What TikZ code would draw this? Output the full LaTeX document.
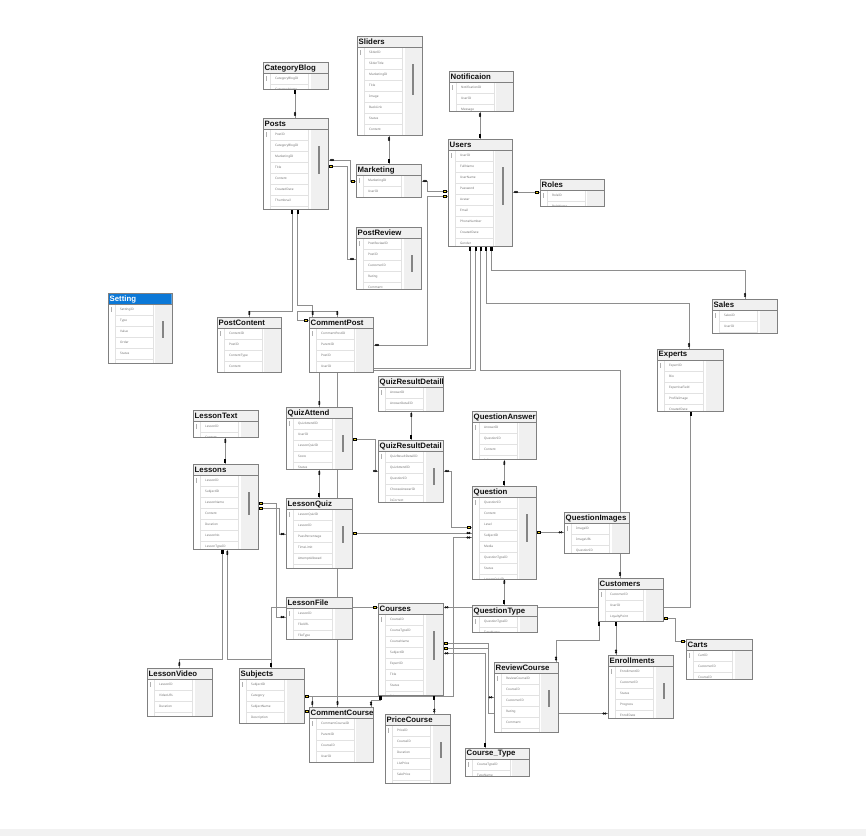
\documentclass[tikz,border=0pt]{standalone}
\usepackage{fontspec}
\setmainfont{Noto Sans}
\newfontfamily\titlefont{Liberation Sans}[BoldFont={* Bold}]
\usetikzlibrary{backgrounds}

\definecolor{connc}{HTML}{8E8E8E}
\definecolor{borderc}{HTML}{808080}
\definecolor{headc}{HTML}{F0F0F0}
\definecolor{rowc}{HTML}{E2E2E2}
\definecolor{tickc}{HTML}{B0B0B0}
\definecolor{rowtextc}{HTML}{707070}
\definecolor{titlec}{HTML}{101010}
\definecolor{selc}{HTML}{0B78D7}
\definecolor{thumbc}{HTML}{858585}
\definecolor{keyyellow}{HTML}{F2D21B}
\definecolor{stripc}{HTML}{F2F2F2}

\tikzset{
  conn/.style={draw=connc, line width=0.75pt},
  tablebox/.style={rectangle, draw=borderc, fill=headc, line width=0.8pt, inner sep=0pt, outer sep=0pt},
  tableline/.style={draw=borderc, line width=0.8pt},
  rowline/.style={draw=rowc, line width=0.5pt},
  tickline/.style={draw=tickc, line width=0.4pt},
  rowtext/.style={anchor=west, inner sep=0pt, text=rowtextc, font=\fontsize{3.1}{3.5}\selectfont},
  titletext/.style={anchor=west, inner sep=0pt, font=\titlefont\bfseries\fontsize{7.8}{8}\selectfont},
  plainhead/.style={fill=headc, text=titlec},
  selhead/.style={fill=selc, text=white},
  keyv/.pic={\fill[black] (-1.1,-1.6) rectangle (1.1,1.6);},
  keyh/.pic={\filldraw[draw=black, fill=keyyellow, line width=0.6pt] (-1.4,-1) rectangle (1.4,1);},
  infh/.pic={\draw[black, line width=0.45pt] (-0.9,0) circle (0.85) (0.9,0) circle (0.85);},
  infv/.pic={\draw[black, line width=0.45pt] (0,-0.9) circle (0.85) (0,0.9) circle (0.85);}
}

% #1 name, #2 title, #3 left, #4 top, #5 width, #6 height, #7 columns, #8 scroll thumb length, #9 header style
\newcommand{\dbtable}[9]{%
  \node[tablebox, minimum width=#5pt, minimum height=#6pt] (#1) at ({#3+#5/2},{#4+#6/2}) {};
  \begin{scope}
    \clip ({#3+0.4},{#4+0.4}) rectangle ({#3+#5-0.4},{#4+#6-0.4});
    \fill[#9] (#3,#4) rectangle ({#3+#5},{#4+11});
    \fill[white] ({#3+1},{#4+11.5}) rectangle ({#3+0.74*#5},{#4+#6});
    \foreach \r [count=\i] in {#7} {
      \pgfmathsetmacro\ry{#4+11+(\i-1)*11}
      \draw[rowline] ({#3+7},{\ry+11}) -- ({#3+0.74*#5-2.5},{\ry+11});
      \node[rowtext] at ({#3+12},{\ry+5.5}) {\r};
    }
    \draw[rowline] ({#3+7},{#4+11}) -- ({#3+7},{#4+#6});
    \draw[rowline] ({#3+0.74*#5-2.5},{#4+11}) -- ({#3+0.74*#5-2.5},{#4+#6});
    \draw[tickline] ({#3+3.5},{#4+14}) -- ({#3+3.5},{#4+19});
    \node[titletext, #9] at ({#3+1.5},{#4+6}) {#2};
  \end{scope}
  \draw[tableline] (#3,{#4+11}) -- ({#3+#5},{#4+11});
  \ifdim #8pt>0pt \fill[thumbc] ({#3+#5-10.5},{#4+28}) rectangle ({#3+#5-8.5},{#4+28+#8});\fi
  \draw[tableline] (#1.north west) rectangle (#1.south east);
}

% mark at one end of a relation: point, offset, mark
\newcommand{\relmk}[3]{\path (#1) ++(#2) pic {#3};}

\begin{document}
\begin{tikzpicture}[x=1pt, y=-1pt]
\useasboundingbox (0,0) rectangle (866,836);

% ---------- tables ----------
\dbtable{CategoryBlog}{CategoryBlog}{263}{62}{65}{27}{CategoryBlogID,CategoryName}{0}{plainhead}
\dbtable{Sliders}{Sliders}{357}{36}{65}{99}{SliderID,SliderTitle,MarketingID,Title,Image,BackLink,Status,Content}{31}{plainhead}
\dbtable{Notificaion}{Notificaion}{449}{71}{64}{40}{NotificationID,UserID,Message}{0}{plainhead}
\dbtable{Posts}{Posts}{263}{118}{65}{91}{PostID,CategoryBlogID,MarketingID,Title,Content,CreatedDate,Thumbnail}{28}{plainhead}
\dbtable{Marketing}{Marketing}{356}{164}{65}{33}{MarketingID,UserID}{0}{plainhead}
\dbtable{Users}{Users}{448}{139}{64}{107}{UserID,FullName,UserName,Password,Avatar,Email,PhoneNumber,CreatedDate,Gender}{38}{plainhead}
\dbtable{Roles}{Roles}{540}{179}{64}{27}{RoleID,RoleName}{0}{plainhead}
\dbtable{PostReview}{PostReview}{356}{227}{65}{62}{PostReviewID,PostID,CustomerID,Rating,Comment}{17}{plainhead}
\dbtable{Setting}{Setting}{108}{293}{64}{70}{SettingID,Type,Value,Order,Status}{16.5}{selhead}
\dbtable{PostContent}{PostContent}{217}{317}{64}{55}{ContentID,PostID,ContentType,Content}{0}{plainhead}
\dbtable{CommentPost}{CommentPost}{309}{317}{64}{55}{CommentPostID,ParentID,PostID,UserID}{0}{plainhead}
\dbtable{QuizResultDetaill}{QuizResultDetaill}{378}{376}{65}{35}{AnswerID,AnswerDetailID}{0}{plainhead}
\dbtable{QuizResultDetail}{QuizResultDetail}{378}{440}{65}{62}{QuizResultDetailID,QuizAttendID,QuestionID,ChooseAnswerID,IsCorrect}{16.7}{plainhead}
\dbtable{QuestionAnswer}{QuestionAnswer}{472}{411}{64}{48}{AnswerID,QuestionID,Content,IsCorrect}{0}{plainhead}
\dbtable{Question}{Question}{472}{486}{64}{93}{QuestionID,Content,Level,SubjectID,Media,QuestionTypeID,Status,LessonQuizID}{28}{plainhead}
\dbtable{LessonText}{LessonText}{193}{410}{65}{27}{LessonID,Content}{0}{plainhead}
\dbtable{QuizAttend}{QuizAttend}{286}{407}{66}{62}{QuizAttendID,UserID,LessonQuizID,Score,Status}{17}{plainhead}
\dbtable{Lessons}{Lessons}{193}{464}{65}{85}{LessonID,SubjectID,LessonName,Content,Duration,LessonNo,LessonTypeID}{23}{plainhead}
\dbtable{LessonQuiz}{LessonQuiz}{286}{498}{66}{70}{LessonQuizID,LessonID,PassPercentage,TimeLimit,AttemptAllowed}{17.3}{plainhead}
\dbtable{QuestionImages}{QuestionImages}{564}{512}{65}{41}{ImageID,ImageURL,QuestionID}{0}{plainhead}
\dbtable{Customers}{Customers}{598}{578}{65}{43}{CustomerID,UserID,LoyaltyPoint}{0}{plainhead}
\dbtable{QuestionType}{QuestionType}{472}{605}{65}{27}{QuestionTypeID,TypeName}{0}{plainhead}
\dbtable{LessonFile}{LessonFile}{286}{597}{66}{42}{LessonID,FileURL,FileType}{0}{plainhead}
\dbtable{Courses}{Courses}{378}{603}{65}{92}{CourseID,CourseTypeID,CourseName,SubjectID,ExpertID,Title,Status,Price}{29}{plainhead}
\dbtable{LessonVideo}{LessonVideo}{147}{668}{65}{48}{LessonID,VideoURL,Duration}{0}{plainhead}
\dbtable{Subjects}{Subjects}{239}{668}{65}{55}{SubjectID,Category,SubjectName,Description}{0}{plainhead}
\dbtable{CommentCourse}{CommentCourse}{309}{707}{64}{55}{CommentCourseID,ParentID,CourseID,UserID}{0}{plainhead}
\dbtable{PriceCourse}{PriceCourse}{385}{714}{65}{69}{PriceID,CourseID,Duration,ListPrice,SalePrice}{16.3}{plainhead}
\dbtable{CourseType}{Course\_Type}{465}{748}{64}{28}{CourseTypeID,TypeName}{0}{plainhead}
\dbtable{ReviewCourse}{ReviewCourse}{494}{662}{64}{70}{ReviewCourseID,CourseID,CustomerID,Rating,Comment}{16.7}{plainhead}
\dbtable{Enrollments}{Enrollments}{608}{655}{65}{63}{EnrollmentID,CustomerID,Status,Progress,EnrollDate}{16.4}{plainhead}
\dbtable{Carts}{Carts}{686}{639}{66}{40}{CartID,CustomerID,CourseID}{0}{plainhead}
\dbtable{Sales}{Sales}{712}{299}{65}{34}{SalesID,UserID}{0}{plainhead}
\dbtable{Experts}{Experts}{657}{349}{66}{62}{ExpertID,Bio,ExpertiseField,ProfileImage,CreatedDate}{0}{plainhead}

% ---------- relations ----------
\begin{pgfonlayer}{background}
\fill[white] (0,0) rectangle (866,836);
\fill[stripc] (0,829) rectangle (866,836);
\draw[conn] (CategoryBlog.south -| 295,0) -- (Posts.north -| 295,0);
\draw[conn] (Sliders.south -| 389,0) -- (Marketing.north -| 389,0);
\draw[conn] (Notificaion.south -| 480,0) -- (Users.north -| 480,0);
\draw[conn] (Posts.east |- 0,160) -- (350,160) -- (350,181) -- (Marketing.west |- 0,181);
\draw[conn] (Posts.east |- 0,166) -- (347,166) -- (347,259) -- (PostReview.west |- 0,259);
\draw[conn] (Marketing.east |- 0,181) -- (427,181) -- (427,191) -- (Users.west |- 0,191);
\draw[conn] (CommentPost.east |- 0,345) -- (427,345) -- (427,196) -- (Users.west |- 0,196);
\draw[conn] (Users.east |- 0,192) -- (Roles.west |- 0,192);
\draw[conn] (Users.south -| 491.5,0) -- (491.5,270) -- (745,270) -- (Sales.north -| 745,0);
\draw[conn] (Users.south -| 486,0) -- (486,303) -- (689,303) -- (Experts.north -| 689,0);
\draw[conn] (Users.south -| 480.7,0) -- (480.7,370.7) -- (620,370.7) -- (Customers.north -| 620,0);
\draw[conn] (Users.south -| 470.3,0) -- (470.3,368.3) -- (319.3,368.3) -- (QuizAttend.north -| 319.3,0);
\draw[conn] (Users.south -| 475.7,0) -- (475.7,370.7) -- (337.5,370.7) -- (CommentCourse.north -| 337.5,0);
\draw[conn] (Posts.south -| 292.3,0) -- (292.3,311) -- (249.3,311) -- (PostContent.north -| 249.3,0);
\draw[conn] (Posts.south -| 297.7,0) -- (297.7,305.7) -- (312.7,305.7) -- (CommentPost.north -| 312.7,0);
\draw[conn] (CommentPost.west |- 0,320) -- (297.7,320) -- (297.7,311) -- (337.3,311) -- (CommentPost.north -| 337.3,0);
\draw[conn] (QuizResultDetaill.south -| 411.3,0) -- (QuizResultDetail.north -| 411.3,0);
\draw[conn] (QuizAttend.east |- 0,439.3) -- (375,439.3) -- (375,471) -- (QuizResultDetail.west |- 0,471);
\draw[conn] (QuizResultDetail.east |- 0,471) -- (451.7,471) -- (451.7,527.7) -- (Question.west |- 0,527.7);
\draw[conn] (QuizAttend.south -| 319.3,0) -- (LessonQuiz.north -| 319.3,0);
\draw[conn] (LessonText.south -| 225.3,0) -- (Lessons.north -| 225.3,0);
\draw[conn] (Lessons.east |- 0,503.5) -- (276.7,503.5) -- (276.7,617) -- (LessonFile.west |- 0,617);
\draw[conn] (Lessons.east |- 0,508.5) -- (279.5,508.5) -- (279.5,534) -- (LessonQuiz.west |- 0,534);
\draw[conn] (Lessons.south -| 222.5,0) -- (222.5,659.3) -- (179.3,659.3) -- (LessonVideo.north -| 179.3,0);
\draw[conn] (Lessons.south -| 227.3,0) -- (227.3,659.3) -- (271.3,659.3) -- (Subjects.north -| 271.3,0);
\draw[conn] (Courses.west |- 0,607.3) -- (271.3,607.3) -- (Subjects.north -| 271.3,0);
\draw[conn] (Subjects.east |- 0,696.7) -- (453.3,696.7) -- (453.3,537.5) -- (Question.west |- 0,537.5);
\draw[conn] (Subjects.east |- 0,696.7) -- (312.3,696.7) -- (CommentCourse.north -| 312.3,0);
\draw[conn] (Subjects.east |- 0,711.7) -- (CommentCourse.west |- 0,711.7);
\draw[conn] (LessonQuiz.east |- 0,533) -- (Question.west |- 0,533);
\draw[conn] (QuestionAnswer.south -| 504.3,0) -- (Question.north -| 504.3,0);
\draw[conn] (Question.east |- 0,532.3) -- (QuestionImages.west |- 0,532.3);
\draw[conn] (Question.south -| 504.3,0) -- (QuestionType.north -| 504.3,0);
\draw[conn] (Courses.east |- 0,607.3) -- (690.7,607.3) -- (Experts.south -| 690.7,0);
\draw[conn] (Courses.east |- 0,643.3) -- (488.3,643.3) -- (488.3,697.3) -- (ReviewCourse.west |- 0,697.3);
\draw[conn] (Courses.east |- 0,648.3) -- (488.3,648.3) -- (488.3,713.5) -- (Enrollments.west |- 0,713.5);
\draw[conn] (Courses.east |- 0,653.3) -- (485.3,653.3) -- (CourseType.north -| 485.3,0);
\draw[conn] (ReviewCourse.north -| 556,0) -- (556,640.7) -- (599.3,640.7) -- (Customers.south -| 599.3,0);
\draw[conn] (Customers.south -| 616,0) -- (Enrollments.north -| 616,0);
\draw[conn] (Customers.east |- 0,618) -- (675.7,618) -- (675.7,641.5) -- (Carts.west |- 0,641.5);
\draw[conn] (Courses.south -| 434.3,0) -- (PriceCourse.north -| 434.3,0);
\draw[conn] (CommentCourse.north -| 371,0) -- (371,700) -- (380.5,700) -- (Courses.south -| 380.5,0);
\end{pgfonlayer}

% ---------- relation end marks ----------
\relmk{CategoryBlog.south -| 295,0}{0,3}{keyv}
\relmk{Posts.north -| 295,0}{0,-4}{infv}
\relmk{Sliders.south -| 389,0}{0,4}{infv}
\relmk{Marketing.north -| 389,0}{0,-3}{keyv}
\relmk{Notificaion.south -| 480,0}{0,4}{infv}
\relmk{Users.north -| 480,0}{0,-3}{keyv}
\relmk{Posts.east |- 0,160}{4,0}{infh}
\relmk{Marketing.west |- 0,181}{-3,0}{keyh}
\relmk{Posts.east |- 0,166}{3,0}{keyh}
\relmk{PostReview.west |- 0,259}{-4,0}{infh}
\relmk{Marketing.east |- 0,181}{4,0}{infh}
\relmk{Users.west |- 0,191}{-3,0}{keyh}
\relmk{CommentPost.east |- 0,345}{4,0}{infh}
\relmk{Users.west |- 0,196}{-3,0}{keyh}
\relmk{Users.east |- 0,192}{4,0}{infh}
\relmk{Roles.west |- 0,192}{-3,0}{keyh}
\relmk{Users.south -| 491.5,0}{0,3}{keyv}
\relmk{Sales.north -| 745,0}{0,-4}{infv}
\relmk{Users.south -| 486,0}{0,3}{keyv}
\relmk{Experts.north -| 689,0}{0,-4}{infv}
\relmk{Users.south -| 480.7,0}{0,3}{keyv}
\relmk{Customers.north -| 620,0}{0,-4}{infv}
\relmk{Users.south -| 470.3,0}{0,3}{keyv}
\relmk{QuizAttend.north -| 319.3,0}{0,-4}{infv}
\relmk{Users.south -| 475.7,0}{0,3}{keyv}
\relmk{CommentCourse.north -| 337.5,0}{0,-4}{infv}
\relmk{Posts.south -| 292.3,0}{0,3}{keyv}
\relmk{PostContent.north -| 249.3,0}{0,-4}{infv}
\relmk{Posts.south -| 297.7,0}{0,3}{keyv}
\relmk{CommentPost.north -| 312.7,0}{0,-4}{infv}
\relmk{CommentPost.west |- 0,320}{-3,0}{keyh}
\relmk{CommentPost.north -| 337.3,0}{0,-4}{infv}
\relmk{QuizResultDetaill.south -| 411.3,0}{0,4}{infv}
\relmk{QuizResultDetail.north -| 411.3,0}{0,-3}{keyv}
\relmk{QuizAttend.east |- 0,439.3}{3,0}{keyh}
\relmk{QuizResultDetail.west |- 0,471}{-3,0}{infh}
\relmk{QuizResultDetail.east |- 0,471}{4,0}{infh}
\relmk{Question.west |- 0,527.7}{-3,0}{keyh}
\relmk{QuizAttend.south -| 319.3,0}{0,4}{infv}
\relmk{LessonQuiz.north -| 319.3,0}{0,-3}{keyv}
\relmk{LessonText.south -| 225.3,0}{0,4}{infv}
\relmk{Lessons.north -| 225.3,0}{0,-3}{keyv}
\relmk{Lessons.east |- 0,503.5}{3,0}{keyh}
\relmk{LessonFile.west |- 0,617}{-3.5,0}{infh}
\relmk{Lessons.east |- 0,508.5}{3,0}{keyh}
\relmk{LessonQuiz.west |- 0,534}{-3.5,0}{infh}
\relmk{Lessons.south -| 222.5,0}{0,3}{keyv}
\relmk{LessonVideo.north -| 179.3,0}{0,-4}{infv}
\relmk{Lessons.south -| 227.3,0}{0,4}{infv}
\relmk{Subjects.north -| 271.3,0}{0,-3}{keyv}
\relmk{Courses.west |- 0,607.3}{-3,0}{keyh}
\relmk{Subjects.east |- 0,696.7}{3,0}{keyh}
\relmk{Question.west |- 0,537.5}{-3.5,0}{infh}
\relmk{CommentCourse.north -| 312.3,0}{0,-4}{infv}
\relmk{Subjects.east |- 0,711.7}{3,0}{keyh}
\relmk{LessonQuiz.east |- 0,533}{3,0}{keyh}
\relmk{Question.west |- 0,533}{-3.5,0}{infh}
\relmk{QuestionAnswer.south -| 504.3,0}{0,4}{infv}
\relmk{Question.north -| 504.3,0}{0,-3}{keyv}
\relmk{Question.east |- 0,532.3}{3,0}{keyh}
\relmk{QuestionImages.west |- 0,532.3}{-3.5,0}{infh}
\relmk{Question.south -| 504.3,0}{0,3}{infv}
\relmk{QuestionType.north -| 504.3,0}{0,-3}{keyv}
\relmk{Courses.east |- 0,607.3}{3.5,0}{infh}
\relmk{Experts.south -| 690.7,0}{0,3}{keyv}
\relmk{Courses.east |- 0,643.3}{3,0}{keyh}
\relmk{ReviewCourse.west |- 0,697.3}{-3.5,0}{infh}
\relmk{Courses.east |- 0,648.3}{3,0}{keyh}
\relmk{Enrollments.west |- 0,713.5}{-3.5,0}{infh}
\relmk{Courses.east |- 0,653.3}{3.5,0}{infh}
\relmk{CourseType.north -| 485.3,0}{0,-3}{keyv}
\relmk{ReviewCourse.north -| 556,0}{0,-3.5}{infv}
\relmk{Customers.south -| 599.3,0}{0,3}{keyv}
\relmk{Customers.south -| 616,0}{0,3}{keyv}
\relmk{Enrollments.north -| 616,0}{0,-3.5}{infv}
\relmk{Customers.east |- 0,618}{3,0}{keyh}
\relmk{Carts.west |- 0,641.5}{-3,0}{keyh}
\relmk{Courses.south -| 434.3,0}{0,3}{keyv}
\relmk{PriceCourse.north -| 434.3,0}{0,-3.5}{infv}
\relmk{CommentCourse.north -| 371,0}{0,-3.5}{infv}
\relmk{Courses.south -| 380.5,0}{0,3}{keyv}
\end{tikzpicture}
\end{document}
